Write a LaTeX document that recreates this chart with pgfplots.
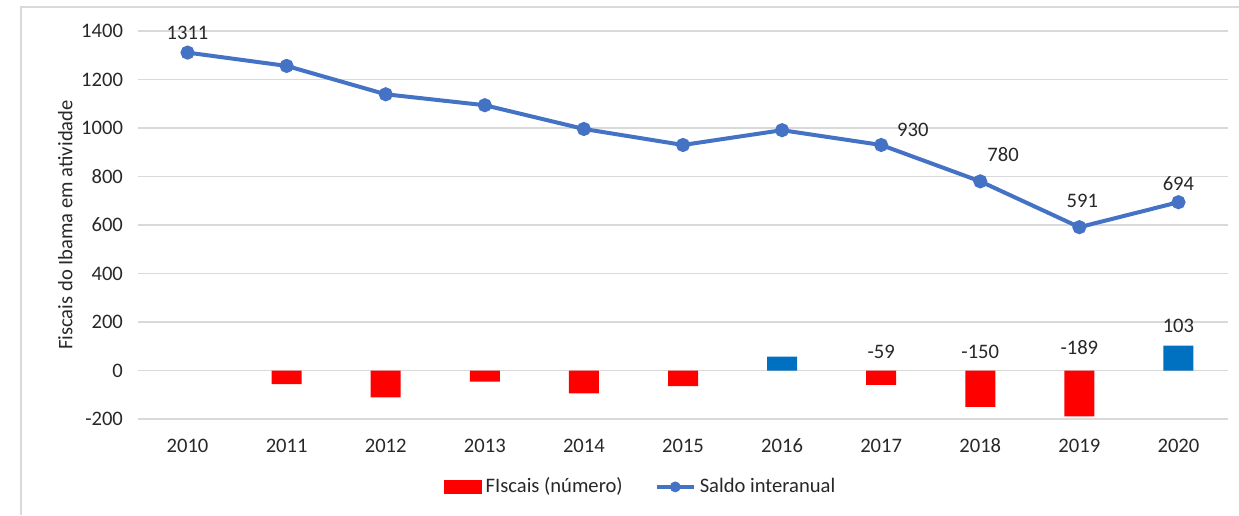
\documentclass[border=0pt]{standalone}
\usepackage{fontspec}
\setmainfont{Carlito}
\usepackage{pgfplots}
\pgfplotsset{compat=1.18}
\definecolor{linecol}{RGB}{68,114,196}
\definecolor{barred}{RGB}{255,0,0}
\definecolor{barblue}{RGB}{0,112,192}
\definecolor{gridc}{RGB}{217,217,217}
\definecolor{txt}{RGB}{40,40,40}
\begin{document}
\begin{tikzpicture}
\useasboundingbox (-69pt,-48pt) rectangle (550.5pt,209.5pt);
\draw[gridc, line width=0.8pt] (-58.5pt,-48pt) -- (-58.5pt,206pt) -- (550.5pt,206pt);
\begin{axis}[
  at={(0,0)}, anchor=south west,
  scale only axis, width=545pt, height=194pt,
  xmin=-0.5, xmax=10.5, ymin=-200, ymax=1400,
  xtick={0,1,2,3,4,5,6,7,8,9,10},
  xticklabels={2010,2011,2012,2013,2014,2015,2016,2017,2018,2019,2020},
  ytick={-200,0,200,400,600,800,1000,1200,1400},
  yticklabels={-200,0,200,400,600,800,1000,1200,1400},
  axis line style={draw=none}, tick style={draw=none},
  ymajorgrids, grid style={gridc, line width=0.8pt},
  tick label style={font=\fontsize{10.3}{12}\selectfont, text=txt},
  xticklabel style={yshift=-6pt, text depth=0pt, text height=7pt},
  yticklabel style={xshift=-4pt},
  ylabel={Fiscais do Ibama em atividade},
  ylabel style={font=\fontsize{10.3}{12}\selectfont, text=txt, at={(ticklabel cs:0.5)}, yshift=-2.5pt},
  legend style={at={(0.462,-0.175)}, anchor=center, draw=none, legend columns=2,
    font=\fontsize{10.3}{12}\selectfont, text=txt,
    /tikz/every even column/.append style={column sep=14pt}},
  legend image code/.code={},
  clip=false,
]
\addlegendimage{legend image code/.code={\fill[barred] (0pt,-3.2pt) rectangle (18.5pt,3.2pt);}}
\addlegendentry{FIscais (número)}
\addlegendimage{legend image code/.code={\draw[linecol, line width=2pt] (0pt,0pt) -- (18.5pt,0pt); \fill[linecol] (9.25pt,0pt) circle (2.5pt);}}
\addlegendentry{Saldo interanual}
\addplot[ybar, bar width=15pt, bar shift=0pt, fill=barred, draw=none, forget plot]
  coordinates {(1,-56) (2,-111) (3,-46) (4,-94) (5,-64) (7,-59) (8,-150) (9,-189)};
\addplot[ybar, bar width=15pt, bar shift=0pt, fill=barblue, draw=none, forget plot]
  coordinates {(6,57) (10,103)};
\addplot[linecol, line width=2pt, mark=*, mark size=2.5pt, mark options={fill=linecol, draw=linecol}, forget plot]
  coordinates {(0,1311) (1,1256) (2,1139) (3,1094) (4,996) (5,930) (6,991) (7,930) (8,780) (9,591) (10,694)};
\begin{scope}[every node/.style={font=\fontsize{10.3}{12}\selectfont, text=txt}]
\node at (axis cs:0,1392) {1311};
\node at (axis cs:7.32,992) {930};
\node at (axis cs:8.23,889) {780};
\node at (axis cs:9.03,699) {591};
\node at (axis cs:10,769) {694};
\node at (axis cs:7,76) {-59};
\node at (axis cs:8,76) {-150};
\node at (axis cs:9,93) {-189};
\node at (axis cs:10,183) {103};
\end{scope}
\end{axis}
\end{tikzpicture}
\end{document}
